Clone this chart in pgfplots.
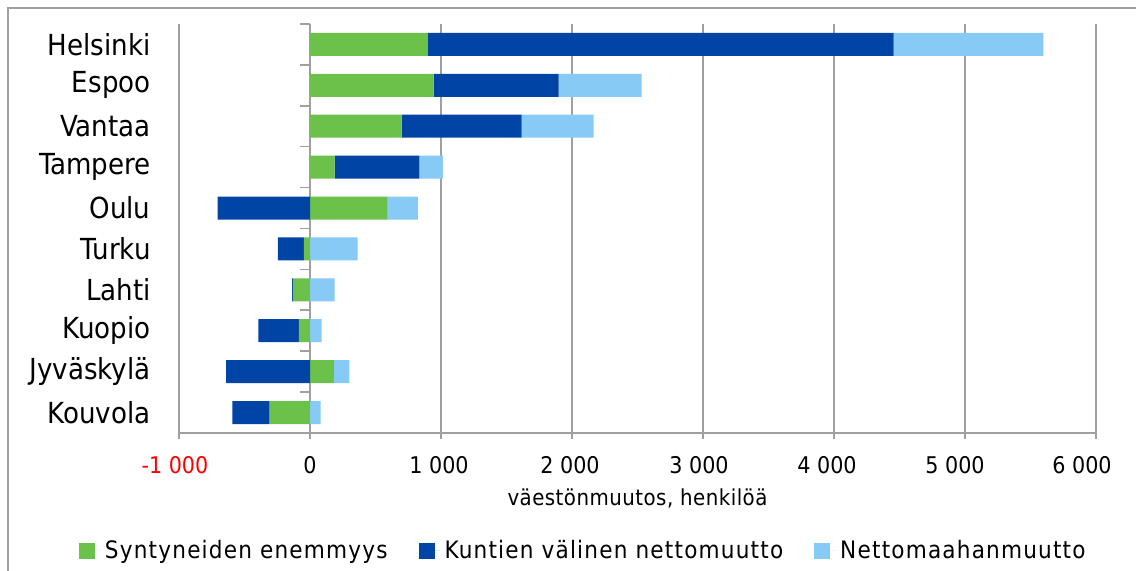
\documentclass[border=0pt]{standalone}
\usepackage{pgfplots}
\pgfplotsset{compat=1.18}
\usepackage{fontspec}
\setmainfont{DejaVu Sans Condensed}
\newfontfamily\legendfont[LetterSpace=5.0]{DejaVu Sans Condensed}
\newfontfamily\titlefont[LetterSpace=2.2]{DejaVu Sans Condensed}
\definecolor{cgreen}{RGB}{108,193,74}
\definecolor{cblue}{RGB}{0,68,166}
\definecolor{clight}{RGB}{135,202,246}
\definecolor{cgrid}{RGB}{160,160,160}
\pgfplotsset{
  base/.style={
    width=458.5pt, height=204.5pt, scale only axis,
    at={(0,0)}, anchor=south west,
    xmin=-1000, xmax=6000, ymin=-0.5, ymax=9.5, y dir=reverse,
    xbar stacked, bar width=11.5pt,
  }
}
\begin{document}
\begin{tikzpicture}
\useasboundingbox (-89.5pt,-69pt) rectangle (478.5pt,216.5pt);
\draw[cgrid, line width=0.65pt] (-85.5pt,-80pt) -- (-85.5pt,212.5pt) -- (490pt,212.5pt);
\begin{axis}[base,
  axis x line*=bottom, axis y line*=left,
  axis line style={cgrid, line width=0.8pt},
  xmajorgrids, grid style={cgrid, line width=0.8pt},
  xtick={-1000,0,1000,2000,3000,4000,5000,6000},
  xticklabels={{\textcolor{red}{-1 000}\hspace*{4pt}},0,{1 000\hspace*{2pt}},{2 000\hspace*{2pt}},{3 000\hspace*{4pt}},{4 000\hspace*{7pt}},{5 000\hspace*{10pt}},{6 000\hspace*{14pt}}},
  xtick align=outside, major tick length=3pt,
  xtick style={cgrid, line width=0.8pt},
  xticklabel style={font=\fontsize{11.5}{13}\selectfont, yshift=-5pt},
  ytick={0,1,2,3,4,5,6,7,8,9},
  yticklabels={Helsinki,Espoo,Vantaa,Tampere,Oulu,Turku,Lahti,Kuopio,Jyväskylä,Kouvola},
  ytick style={draw=none},
  yticklabel style={font=\fontsize{14.5}{16}\selectfont, xshift=-10.7pt},
  xlabel={väestönmuutos, henkilöä},
  xlabel style={font=\titlefont\fontsize{11}{13}\selectfont, at={(axis description cs:0.5,0)}, anchor=center, yshift=-32.5pt},
  legend columns=3,
  legend cell align=left,
  legend style={at={(axis description cs:0.442,-0.2885)}, anchor=center, draw=none,
    font=\legendfont\fontsize{12}{14}\selectfont,
    /tikz/every even column/.append style={column sep=13.5pt}},
  legend image code/.code={\path[#1,draw=none] (0pt,-4pt) rectangle (8pt,4pt); \path (0pt,0pt) -- (11pt,0pt);},
]
\addplot[fill=cgreen, draw=none] coordinates {(900,0) (944,1) (700,2) (188,3) (593,4) (0,5) (0,6) (0,7) (183,8) (0,9)};
\addlegendentry{Syntyneiden enemmyys}
\addplot[fill=cblue, draw=none] coordinates {(3555,0) (954,1) (916,2) (647,3) (0,4) (0,5) (0,6) (0,7) (0,8) (0,9)};
\addlegendentry{Kuntien välinen nettomuutto}
\addplot[fill=clight, draw=none] coordinates {(1143,0) (634,1) (550,2) (180,3) (231,4) (364,5) (188,6) (89,7) (117,8) (82,9)};
\addlegendentry{Nettomaahanmuutto}
\pgfplotsinvokeforeach{-0.5,0.5,1.5,2.5,3.5,4.5,5.5,6.5,7.5,8.5}{
  \draw[cgrid, line width=0.8pt] (axis cs:0,#1) -- ([xshift=-5pt]axis cs:0,#1);
}
\end{axis}
\begin{axis}[base, hide axis]
\addplot[fill=cgreen, draw=none] coordinates {(0,0) (0,1) (0,2) (0,3) (0,4) (-46,5) (-130,6) (-84,7) (0,8) (-308,9)};
\addplot[fill=cblue, draw=none] coordinates {(0,0) (0,1) (0,2) (0,3) (-705,4) (-200,5) (-7,6) (-311,7) (-641,8) (-285,9)};
\end{axis}
\end{tikzpicture}
\end{document}
